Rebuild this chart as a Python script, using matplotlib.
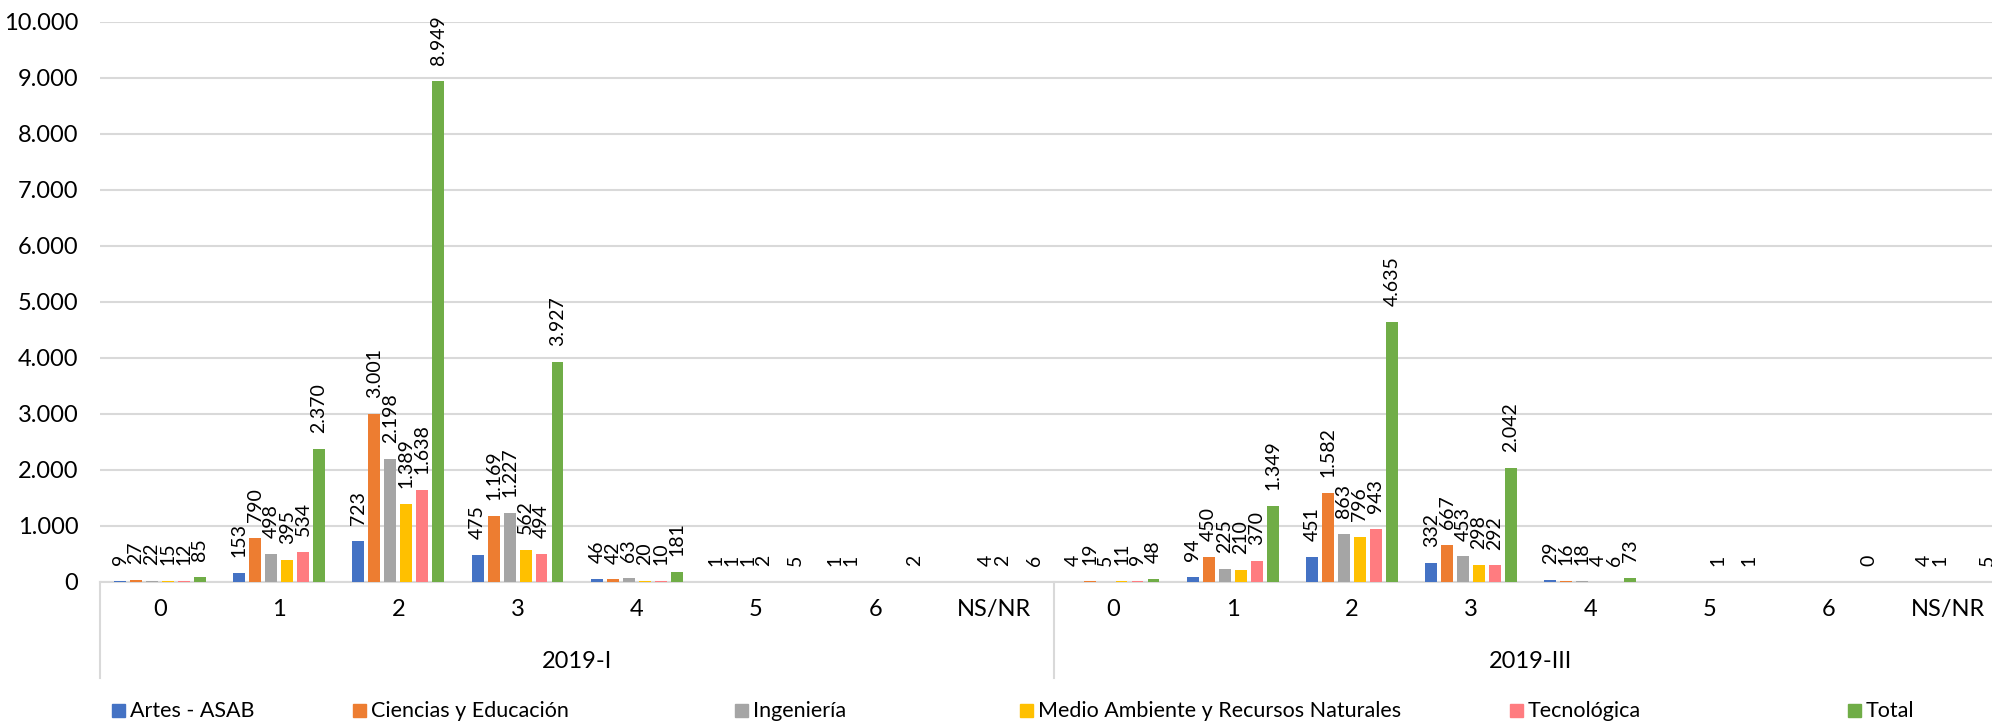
import numpy as np
import matplotlib
matplotlib.use("Agg")
import matplotlib.pyplot as plt
from matplotlib.lines import Line2D
from matplotlib.patches import Rectangle

plt.rcParams['font.family'] = ['Lato', 'DejaVu Sans']

nan = np.nan

# categories (two levels)
periods = ["2019-I", "2019-III"]
strata = ["0", "1", "2", "3", "4", "5", "6", "NS/NR"]

series = ["Artes - ASAB", "Ciencias y Educación", "Ingeniería",
          "Medio Ambiente y Recursos Naturales", "Tecnológica", "Total"]
colors = ["#4472C4", "#ED7D31", "#A5A5A5", "#FFC000", "#FF7C80", "#70AD47"]

# values per series, 2019-I strata 0..NS/NR then 2019-III strata 0..NS/NR
artes = [9, 153, 723, 475, 46, 1, 1, nan,
         4, 94, 451, 332, 29, nan, nan, nan]
ciencias = [27, 790, 3001, 1169, 42, 1, 1, nan,
            19, 450, 1582, 667, 16, nan, nan, 4]
ingenieria = [22, 498, 2198, 1227, 63, 1, nan, 4,
              5, 225, 863, 453, 18, nan, nan, 1]
medio = [15, 395, 1389, 562, 20, 2, nan, 2,
         11, 210, 796, 298, 4, 1, nan, nan]
tecnologica = [12, 534, 1638, 494, 10, nan, nan, nan,
               9, 370, 943, 292, 6, nan, nan, nan]
total = [85, 2370, 8949, 3927, 181, 5, 2, 6,
         48, 1349, 4635, 2042, 73, 1, 0, 5]

data = [artes, ciencias, ingenieria, medio, tecnologica, total]


def fmt(v):
    return f"{v:,.0f}".replace(",", ".")


W, H = 1992, 721
fig = plt.figure(figsize=(W / 100, H / 100), dpi=100)
ax = fig.add_axes([0.0504, 0.193, 0.9496, 0.7765])

n_cat = len(periods) * len(strata)
x = np.arange(n_cat)
pitch = 0.134
width = 0.1

for k, (name, vals, c) in enumerate(zip(series, data, colors)):
    xs = x + (k - 2.5) * pitch
    ax.bar(xs, vals, width=width, color=c, label=name, zorder=3)
    for xi, v in zip(xs, vals):
        if np.isnan(v):
            continue
        ax.annotate(fmt(v), (xi, v), xytext=(0, 11.5), textcoords="offset points",
                    rotation=90, ha="center", va="bottom", fontsize=14)

ax.set_ylim(0, 10000)
ax.set_xlim(-0.5, 15.37)
yt = np.arange(0, 10001, 1000)
ax.set_yticks(yt)
ax.set_yticklabels([fmt(v) for v in yt], fontsize=17)
ax.tick_params(axis="y", length=0, pad=16)
ax.set_xticks([])
ax.grid(axis="y", color="#D9D9D9", linewidth=1.5, zorder=0)
for s in ["top", "right", "left"]:
    ax.spines[s].set_visible(False)
ax.spines["bottom"].set_color("#D9D9D9")
ax.spines["bottom"].set_linewidth(1.5)

# multi-level category axis
trans = ax.get_xaxis_transform()
for i, lab in enumerate(strata * len(periods)):
    ax.text(i, -0.05, lab, transform=trans, ha="center", va="center", fontsize=17)
for j, p in enumerate(periods):
    ax.text(j * 8 + 3.5, -0.142, p, transform=trans, ha="center", va="center", fontsize=17)
for xb in [-0.5, 7.5, 15.5]:
    ax.add_line(Line2D([xb, xb], [0, -0.172], transform=trans, color="#D9D9D9",
                       linewidth=1.5, clip_on=False))

# legend, one entry at a time along the bottom edge
leg_x = [112, 353, 735, 1020, 1510, 1848]
for lx, name, c in zip(leg_x, series, colors):
    fig.patches.append(Rectangle((lx / W, 4 / H), 13 / W, 13 / H, color=c,
                                 transform=fig.transFigure, figure=fig))
    fig.text((lx + 18) / W, 4 / H, name, fontsize=15.5, ha="left", va="baseline")

fig.savefig("out.png", dpi=100)
